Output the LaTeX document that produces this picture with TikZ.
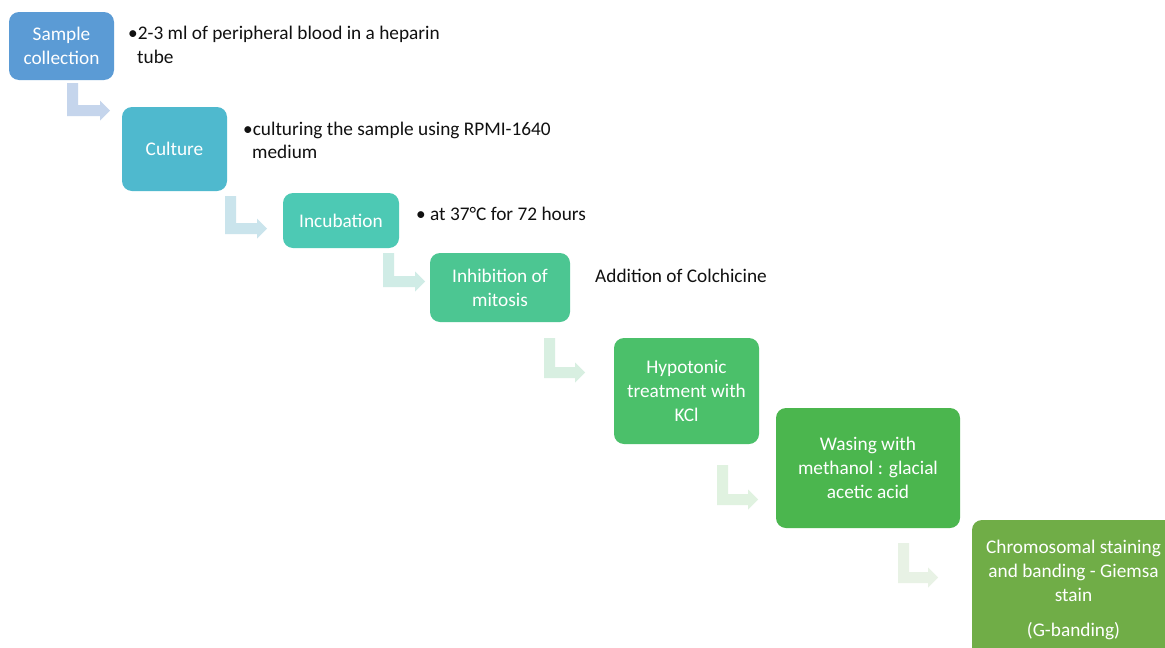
\documentclass[tikz,border=0pt]{standalone}
\usepackage{fontspec}
\setmainfont{Carlito}
\definecolor{c1}{HTML}{5B9BD5}
\definecolor{c2}{HTML}{4FB9CE}
\definecolor{c3}{HTML}{4DC9B4}
\definecolor{c4}{HTML}{4CC692}
\definecolor{c5}{HTML}{4BC06A}
\definecolor{c6}{HTML}{4BB64E}
\definecolor{c7}{HTML}{70AD47}
\definecolor{a1}{HTML}{C5D5EC}
\definecolor{a2}{HTML}{CAE4EC}
\definecolor{a3}{HTML}{D0ECE6}
\definecolor{a4}{HTML}{D8EFE1}
\definecolor{a5}{HTML}{E0F2E0}
\definecolor{a6}{HTML}{E8F2E5}
\definecolor{ink}{HTML}{111111}
\newcommand{\bentarr}[5]{%
  % #1 left x of vertical bar, #2 top y, #3 bottom y, #4 tip x, #5 colour
  \fill[#5] (#1,#2) -- (#1+11,#2) -- (#1+11,#3-11) -- (#4-10,#3-11)
    -- (#4-10,#3-15.5) -- (#4,#3-5.5) -- (#4-10,#3+4.5) -- (#4-10,#3)
    -- (#1,#3) -- cycle;}
\begin{document}
\begin{tikzpicture}[x=1pt,y=-1pt,
  box/.style={rounded corners=10pt, text=white, align=center,
    font=\fontsize{19.3}{24}\selectfont, inner sep=0pt},
  note/.style={anchor=base west, inner sep=0pt, text=ink,
    font=\fontsize{19.3}{24}\selectfont}]
\useasboundingbox (0,0) rectangle (1165,648);
\clip (0,0) rectangle (1165,648);
\fill[white] (0,0) rectangle (1165,648);

% bent arrows
\bentarr{67}{83}{116}{110}{a1}
\bentarr{225}{196}{234}{267}{a2}
\bentarr{383}{253}{287}{425}{a3}
\bentarr{544}{338}{378}{585}{a4}
\bentarr{717}{465}{505}{758}{a5}
\bentarr{898}{543}{583}{938}{a6}

% boxes
\node[box, fill=c1, minimum width=105pt, minimum height=68pt] (b1) at (61.5,46) {Sample\\collection};
\node[box, fill=c2, minimum width=105pt, minimum height=84pt] (b2) at (174.5,149) {Culture};
\node[box, fill=c3, minimum width=116pt, minimum height=55pt] (b3) at (341,220.5) {Incubation};
\node[box, fill=c4, minimum width=140pt, minimum height=69pt] (b4) at (500,287.5) {Inhibition of\\mitosis};
\node[box, fill=c5, minimum width=145pt, minimum height=106pt] (b5) at (686.5,391) {Hypotonic\\treatment with\\KCl};
\node[box, fill=c6, minimum width=184pt, minimum height=120pt] (b6) at (868,468) {Wasing with\\methanol : glacial\\acetic acid};
\node[box, fill=c7, minimum width=203pt, minimum height=140pt] (b7) at (1073.5,590) {Chromosomal staining\\and banding - Giemsa\\stain\\[11pt](G-banding)};

% notes
\node[note] (t1a) at (128,39) {\textbullet 2-3 ml of peripheral blood in a heparin};
\node[note] (t1b) at (137,63) {tube};
\node[note] (t2a) at (243,135) {\textbullet culturing the sample using RPMI-1640};
\node[note] (t2b) at (252,158) {medium};
\node[note] (t3) at (416,220) {\textbullet\ at 37°C for 72 hours};
\node[note] (t4) at (595,282) {Addition of Colchicine};
\end{tikzpicture}
\end{document}
